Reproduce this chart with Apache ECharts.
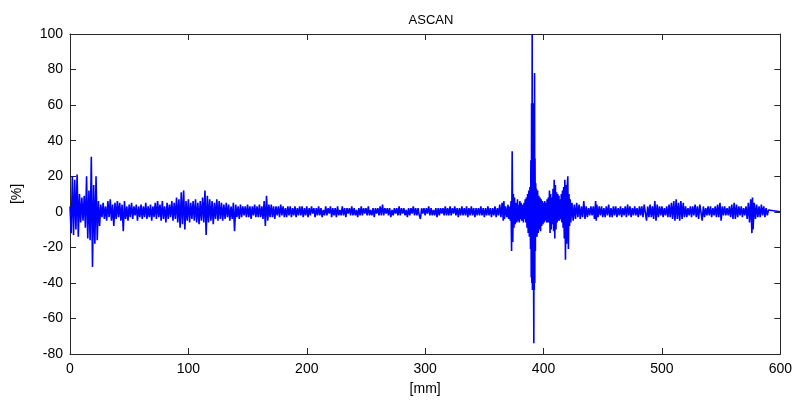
<!DOCTYPE html>
<html>
<head>
<meta charset="utf-8">
<script src="https://cdn.jsdelivr.net/npm/echarts@6/dist/echarts.min.js"></script>
<style>
html,body{margin:0;padding:0;background:#fff;}
#chart{width:795px;height:405px;}
</style>
</head>
<body>
<div id="chart"></div>
<script>
// A-scan samples: [position mm, amplitude %]
var initialEcho = [
[0,3],[1,-12],[2,20],[3,-13],[4,18],[5,-10],[6,21],[7,-14],[8,10],[9,-6],[10,8],[11,-5],[12,9],[13,-9],[14,20],[15,-15],[16,12],[17,-16],[18,31],[19,-31],[20,15],[21,-18],[22,20],[23,-16],[24,6],[25,-8]
];
var nearField = [
[26,4],[27,-3],[28,5],[29,-4],[30,3],[31,-5],[32,6],[33,-3],[34,7],[35,-5],[36,4],[37,-8],[38,5],[39,-4],[40,6],[41,-3],[42,5],[43,-5],[44,4],[45,-11],[46,6],[47,-4],[48,3],[49,-5],
[50,4],[51,-3],[52,5],[53,-4],[54,3],[55,-2],[56,4],[57,-5],[58,3],[59,-3],[60,4],[61,-4],[62,3],[63,-3],[64,5],[65,-4],[66,3],[67,-3],[68,4],[69,-5],[70,3],[71,-3],[72,5],[73,-4],[74,6],
[75,-3],[76,4],[77,-5],[78,6],[79,-4],[80,3],[81,-6],[82,5],[83,-4],[84,4],[85,-3],[86,6],[87,-5],[88,5],[89,-4],[90,8],[91,-6],[92,7],[93,-9],[94,11],[95,-7],[96,12],[97,-10],[98,6],[99,-5],
[100,7],[101,-6],[102,5],[103,-4],[104,6],[105,-5],[106,7],[107,-6],[108,5],[109,-7],[110,6],[111,-5],[112,8],[113,-6],[114,12],[115,-13],[116,9],[117,-6],[118,7],[119,-5],[120,6],[121,-7],
[122,5],[123,-4],[124,7],[125,-5],[126,6],[127,-4],[128,5],[129,-5],[130,4],[131,-4],[132,5],[133,-3],[134,4],[135,-5],[136,3],[137,-4],[138,5],[139,-11],[140,4],[141,-3],[142,3],[143,-4],
[144,4],[145,-3],[146,3],[147,-2],[148,3],[149,-3],[150,4],[151,-3],[152,3],[153,-4],[154,3],[155,-2],[156,4],[157,-3],[158,3],[159,-3],[160,4],[161,-3],[162,3],[163,-4],[164,6],[165,-8],
[166,9],[167,-5],[168,4],[169,-3],[170,4],[171,-3],[172,3],[173,-4],[174,3],[175,-2],[176,3],[177,-3],[178,4],[179,-2],[180,3],[181,-3],[182,2],[183,-3],[184,3],[185,-2],[186,3],[187,-3],
[188,2],[189,-2],[190,3],[191,-3],[192,2],[193,-2],[194,3],[195,-2],[196,3],[197,-3],[198,2],[199,-2],[200,3]
];
var quietZone = [
[201,-3],[202,2],[203,-2],[204,3],[205,-1],[206,2],[207,-3],[208,2],[209,-2],[210,3],[211,-2],[212,2],[213,-3],[214,1],[215,-2],[216,3],[217,-2],[218,2],[219,-1],[220,3],[221,-3],[222,2],
[223,-2],[224,2],[225,-3],[226,3],[227,-2],[228,1],[229,-2],[230,3],[231,-2],[232,2],[233,-3],[234,2],[235,-1],[236,2],[237,-2],[238,3],[239,-2],[240,2],[241,-2],[242,1],[243,-3],[244,2],
[245,-2],[246,3],[247,-2],[248,2],[249,-1],[250,2],[251,-2],[252,3],[253,-2],[254,1],[255,-2],[256,2],[257,-3],[258,2],[259,-1],[260,2],[261,-2],[262,3],[263,-2],[264,4],[265,-2],[266,2],
[267,-1],[268,2],[269,-2],[270,2],[271,-3],[272,1],[273,-2],[274,2],[275,-1],[276,2],[277,-2],[278,3],[279,-2],[280,2],[281,-1],[282,2],[283,-2],[284,1],[285,-3],[286,2],[287,-2],[288,2],
[289,-1],[290,3],[291,-2],[292,2],[293,-2],[294,2],[295,-2],[296,-4],[297,2],[298,-1],[299,2],[300,-2],[301,2],[302,-1],[303,3],[304,-2],[305,2],[306,-2],[307,1],[308,-2],[309,2],[310,-3],
[311,2],[312,-2],[313,2],[314,-1],[315,2],[316,-2],[317,3],[318,-2],[319,2],[320,-2],[321,3],[322,-2],[323,2],[324,-1],[325,3],[326,-2],[327,2],[328,-3],[329,2],[330,-2],[331,3],[332,-2],
[333,2],[334,-2],[335,3],[336,-3],[337,2],[338,-2],[339,3],[340,-2],[341,2],[342,-3],[343,2],[344,-2],[345,2],[346,-2],[347,3],[348,-2],[349,2],[350,-3],[351,2],[352,-2],[353,3],[354,-2],
[355,2],[356,-3],[357,2],[358,-2],[359,3],[360,-3],[361,2],[362,-2]
];
var backwallEcho = [
[363,4],[364,-3],[365,5],[366,-5],[366.5,6],[367,-4],[368,3],[369,-3],[370,4],[370.5,-4],[371,3],[372,-5],[372.5,6],[373,-22],[373.5,34],[374,-17],[374.5,10],[375,-9],[375.5,8],[376,-7],
[377,5],[377.5,-6],[378,7],[378.5,-5],[379,4],[379.5,-6],[380,6],[380.5,-4],[381,5],[381.5,-5],[382,4],[383,-6],[383.5,5],[384,-4],[384.5,7],[385,-6],[385.5,8],[386,-9],[386.5,10],[387,-12],
[387.5,12],[388,-14],[388.5,14],[389,-21],[389.3,29],[389.6,-37],[389.9,61],[390.1,-40],[390.4,100],[390.6,-44],[390.9,61],[391.1,-44],[391.4,58],[391.6,-43],[391.8,-74],[392.0,61],
[392.2,-44],[392.4,78],[392.6,-40],[392.8,30],[393.1,-22],[393.4,16],[393.7,-14],[394,13],[394.5,-14],[395,12],[395.5,-12],[396,9],[396.5,-10],[397,8],[397.5,-11],[398,7],[398.5,-8],
[399,6],[399.5,-7],[400,5],[400.5,-6],[401,6],[401.5,-5],[402,5],[402.5,-6],[403,7],[403.5,-6],[404,8],[404.5,-6],[405,12],[405.5,-12],[406,10],[406.5,-10],[407,8],[407.5,-7],[408,13],
[408.5,-11],[409,18],[409.5,-15],[410,15],[410.5,-10],[411,11],[411.5,-6],[412,10],[412.5,-5],[413,9],[413.5,-5],[414,7],[414.5,-4],[415,10],[415.5,-6],[416,12],[416.5,-9],[417,14],
[417.5,-15],[418,18],[418.5,-27],[419,15],[419.5,-18],[420,14],[420.5,20],[421,-21],[421.5,10],[422,-8],[422.5,7],[423,-6],[424,5],[425,-5],[426,4],[427,-4],[428,5],[429,-3],[430,4],
[431,-4],[432,3],[433,-3],[434,6],[435,-4],[436,3],[437,-3],[438,2],[439,-2],[440,3],[441,-2],[442,3],[443,-4],[444,6],[444.5,-5],[445,4]
];
var tailZone = [
[446,-3],[447,3],[448,-2],[449,3],[450,-3],[451,2],[452,-3],[453,3],[454,-2],[455,4],[456,-3],[457,2],[458,-3],[459,3],[460,-2],[461,3],[462,-3],[463,2],[464,-2],[465,3],[466,-3],[467,2],
[468,-2],[469,3],[470,-3],[471,4],[472,-2],[473,3],[474,-3],[475,2],[476,-2],[477,3],[478,-2],[479,2],[480,-3],[481,3],[482,-2],[483,3],[484,-3],[485,4],[486,5],[487,-5],[488,3],[489,-3],
[490,4],[491,-3],[492,3],[493,-4],[494,6],[495,-5],[496,4],[497,-3],[498,3],[499,-2],[500,3],[501,-3],[502,2],[503,-2],[504,3],[505,-3],[506,4],[507,-3],[508,5],[509,-4],[510,6],[511,-5],
[512,7],[513,-4],[514,5],[515,-5],[516,6],[517,-4],[518,5],[519,-3],[520,3],[521,-3],[522,2],[523,-2],[524,3],[525,-3],[526,3],[527,-2],[528,4],[529,-3],[530,3],[531,-4],[532,4],[533,5],
[534,-5],[535,3],[536,-3],[537,2],[538,-2],[539,3],[540,-2],[541,3],[542,-3],[543,2],[544,-2],[545,3],[546,-3],[547,4],[548,-3],[549,5],[550,-5],[551,3],[552,-2],[553,3],[554,-2],[555,2],
[556,-2],[557,3],[558,-3],[559,4],[560,-4],[561,5],[562,-4],[563,4],[564,-3],[565,3],[566,-2],[567,3],[568,-3],[569,2],[570,-2],[571,3],[572,-4],[573,5],[574,-6],[575,7],[576,-12],
[576.5,8],[577,-10],[578,5],[579,-4],[580,4],[581,-3],[582,3],[583,-3],[584,4],[585,-2],[586,3],[587,-3],[588,2],[589,-2],[590,1],[590.5,0],[600,0]
];

var xTicks = {min: 0, max: 600, interval: 100};
var yTicks = {min: -80, max: 100, interval: 20};

var samples = initialEcho.concat(nearField, quietZone, backwallEcho, tailZone);

var FONT = '"Liberation Sans", Arial, sans-serif';
var AX = '#262626';

var chart = echarts.init(document.getElementById('chart'), null, {renderer: 'canvas'});

function axisBase(extra) {
  var o = {
    type: 'value',
    axisLine: {show: true, onZero: false, lineStyle: {color: AX, width: 1}},
    axisTick: {show: true, inside: true, length: 6, lineStyle: {color: AX, width: 1}},
    splitLine: {show: false},
    axisLabel: {show: false}
  };
  for (var k in extra) o[k] = extra[k];
  return o;
}

chart.setOption({
  animation: false,
  backgroundColor: '#ffffff',
  title: {
    text: 'ASCAN',
    left: 426,
    top: 9,
    textAlign: 'center',
    textStyle: {fontFamily: FONT, fontSize: 13, fontWeight: 'normal', color: '#000'}
  },
  grid: {left: 70, right: 13, top: 34, bottom: 51, containLabel: false},
  xAxis: [
    axisBase({
      position: 'bottom', min: xTicks.min, max: xTicks.max, interval: xTicks.interval,
      name: '[mm]', nameLocation: 'middle', nameGap: 28,
      nameTextStyle: {fontFamily: FONT, fontSize: 14, color: '#000'},
      axisLabel: {show: true, margin: 8, fontFamily: FONT, fontSize: 14, color: '#000'}
    }),
    axisBase({position: 'top', min: xTicks.min, max: xTicks.max, interval: xTicks.interval})
  ],
  yAxis: [
    axisBase({
      position: 'left', min: yTicks.min, max: yTicks.max, interval: yTicks.interval,
      name: '[%]', nameLocation: 'middle', nameGap: 46,
      nameTextStyle: {fontFamily: FONT, fontSize: 14, color: '#000'},
      axisLabel: {show: true, margin: 7, fontFamily: FONT, fontSize: 14, color: '#000'}
    }),
    axisBase({position: 'right', min: yTicks.min, max: yTicks.max, interval: yTicks.interval})
  ],
  series: [{
    type: 'line',
    xAxisIndex: 0,
    yAxisIndex: 0,
    data: samples,
    showSymbol: false,
    symbol: 'none',
    lineStyle: {color: '#0000ff', width: 1.6},
    itemStyle: {color: '#0000ff'}
  }]
});
</script>
</body>
</html>
